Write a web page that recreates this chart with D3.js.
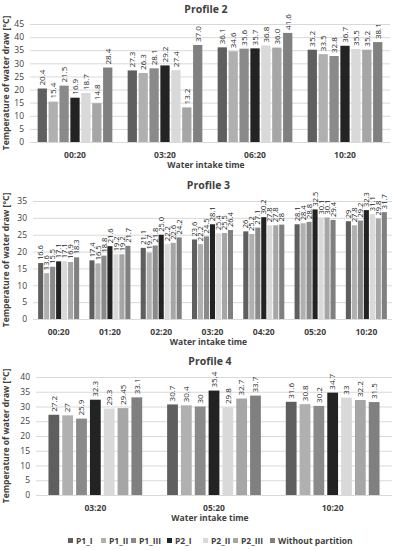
<!DOCTYPE html>
<html>
<head>
<meta charset="utf-8">
<script src="https://cdn.jsdelivr.net/npm/d3@7"></script>
<style>
  body { margin: 0; background: #fff; }
  svg text { font-family: "Open Sans", "DejaVu Sans", sans-serif; fill: #404040; }
</style>
</head>
<body>
<div id="chart"></div>
<script>
// series names and colours
const seriesNames = ["P1_I", "P1_II", "P1_III", "P2_I", "P2_II", "P2_III", "Without partition"];
const seriesColors = ["#5f5f5f", "#b0b0b0", "#8a8a8a", "#232323", "#d9d9d9", "#a6a6a6", "#808080"];

// Profile 2
const p2Times = ["00:20", "03:20", "06:20", "10:20"];
const p2Values = [
    [20.4, 15.4, 21.5, 16.9, 18.7, 14.8, 28.4],
    [27.3, 26.3, 28.1, 29.2, 27.4, 13.2, 37.0],
    [36.1, 34.6, 35.6, 35.7, 36.8, 36.0, 41.6],
    [35.2, 33.5, 32.8, 36.7, 35.5, 35.2, 38.1]
];
const p2Labels = [
    ["20.4", "15.4", "21.5", "16.9", "18.7", "14.8", "28.4"],
    ["27.3", "26.3", "28.1", "29.2", "27.4", "13.2", "37.0"],
    ["36.1", "34.6", "35.6", "35.7", "36.8", "36.0", "41.6"],
    ["35.2", "33.5", "32.8", "36.7", "35.5", "35.2", "38.1"]
];

// Profile 3
const p3Times = ["00:20", "01:20", "02:20", "03:20", "04:20", "05:20", "10:20"];
const p3Values = [
    [16.6, 13.6, 15.5, 17.1, 17.1, 16.9, 18.3],
    [17.4, 16.5, 18.8, 21.6, 19.2, 19.2, 21.7],
    [21.1, 19.7, 21.8, 25.0, 22.2, 22.6, 24.2],
    [23.6, 22.2, 24.5, 28.1, 25.4, 25.5, 26.4],
    [26, 25.2, 27.1, 30.2, 27.8, 27.8, 28],
    [28.1, 28.4, 28.8, 32.5, 30.1, 30.1, 29.4],
    [29, 27.8, 29.2, 32.3, 31.1, 29.8, 31.7]
];
const p3Labels = [
    ["16.6", "13.6", "15.5", "17.1", "17.1", "16.9", "18.3"],
    ["17.4", "16.5", "18.8", "21.6", "19.2", "19.2", "21.7"],
    ["21.1", "19.7", "21.8", "25.0", "22.2", "22.6", "24.2"],
    ["23.6", "22.2", "24.5", "28.1", "25.4", "25.5", "26.4"],
    ["26", "25.2", "27.1", "30.2", "27.8", "27.8", "28"],
    ["28.1", "28.4", "28.8", "32.5", "30.1", "30.1", "29.4"],
    ["29", "27.8", "29.2", "32.3", "31.1", "29.8", "31.7"]
];

// Profile 4
const p4Times = ["03:20", "05:20", "10:20"];
const p4Values = [
    [27.2, 27, 25.9, 32.3, 29.3, 29.45, 33.1],
    [30.7, 30.4, 30, 35.4, 29.8, 32.7, 33.7],
    [31.6, 30.8, 30.2, 34.7, 33, 32.2, 31.5]
];
const p4Labels = [
    ["27.2", "27", "25.9", "32.3", "29.3", "29.45", "33.1"],
    ["30.7", "30.4", "30", "35.4", "29.8", "32.7", "33.7"],
    ["31.6", "30.8", "30.2", "34.7", "33", "32.2", "31.5"]
];

const width = 395, height = 550;

const svg = d3.select("#chart").append("svg")
    .attr("width", width)
    .attr("height", height);

// draws one panel of grouped bars
function drawPanel(opts) {
    let x = d3.scaleBand()
        .domain(opts.times)
        .range([opts.left, opts.right])
        .paddingInner(opts.groupPad)
        .paddingOuter(opts.groupPad / 2);
    let xs = d3.scaleBand()
        .domain(seriesNames)
        .range([0, x.bandwidth()])
        .paddingInner(opts.barPad);
    let y = d3.scaleLinear()
        .domain([0, opts.yMax])
        .range([opts.bottom, opts.top]);

    let g = svg.append("g");

    // title
    g.append("text")
        .attr("x", (opts.left + opts.right) / 2 - 4)
        .attr("y", opts.titleY)
        .attr("text-anchor", "middle")
        .style("font-size", "10.5px")
        .style("font-weight", "bold")
        .text(opts.title);

    // grid + y ticks
    let yAxis = g.append("g")
        .attr("transform", "translate(" + opts.left + ",0)")
        .call(d3.axisLeft(y).tickValues(d3.range(0, opts.yMax + 1, 5))
            .tickSize(-(opts.right - opts.left)).tickPadding(6));
    yAxis.select(".domain").remove();
    yAxis.selectAll("line").attr("stroke", "#d9d9d9");
    yAxis.selectAll("text")
        .style("font-size", "8.5px")
        .style("font-family", "'Open Sans', sans-serif")
        .attr("fill", "#404040");

    // bars
    opts.times.forEach(function(t, i) {
        let grp = g.append("g").attr("transform", "translate(" + x(t) + ",0)");
        seriesNames.forEach(function(s, j) {
            let v = opts.values[i][j];
            grp.append("rect")
                .attr("x", xs(s))
                .attr("y", y(v))
                .attr("width", xs.bandwidth())
                .attr("height", y(0) - y(v))
                .attr("fill", seriesColors[j]);
            let lx = xs(s) + xs.bandwidth() / 2 + opts.labelSize * 0.35;
            let ly = y(v) - 3;
            grp.append("text")
                .attr("transform", "translate(" + lx + "," + ly + ") rotate(-90)")
                .attr("text-anchor", "start")
                .style("font-size", opts.labelSize + "px")
                .attr("fill", "#262626")
                .style("fill", "#262626")
                .text(opts.labels[i][j]);
        });
    });

    // x labels
    let xAxis = g.append("g")
        .attr("transform", "translate(0," + opts.bottom + ")")
        .call(d3.axisBottom(x).tickSize(0).tickPadding(10));
    xAxis.select(".domain").remove();
    xAxis.selectAll("text")
        .style("font-size", "8.5px")
        .style("font-weight", "bold")
        .style("font-family", "'Open Sans', sans-serif")
        .attr("fill", "#404040");

    // x axis title
    g.append("text")
        .attr("x", (opts.left + opts.right) / 2 - 4)
        .attr("y", opts.bottom + 26)
        .attr("text-anchor", "middle")
        .style("font-size", "8.5px")
        .style("font-weight", "bold")
        .text("Water intake time");

    // y axis title
    g.append("text")
        .attr("transform", "translate(9," + ((opts.top + opts.bottom) / 2) + ") rotate(-90)")
        .attr("text-anchor", "middle")
        .style("font-size", "8.5px")
        .style("font-weight", "bold")
        .text("Temperature of water draw [°C]");
}

drawPanel({
    title: "Profile 2", titleY: 13,
    times: p2Times, values: p2Values, labels: p2Labels,
    yMax: 45, top: 24, bottom: 142, left: 30, right: 390,
    groupPad: 0.17, barPad: 0.15, labelSize: 8
});

drawPanel({
    title: "Profile 3", titleY: 189,
    times: p3Times, values: p3Values, labels: p3Labels,
    yMax: 35, top: 201, bottom: 319, left: 33, right: 392,
    groupPad: 0.2, barPad: 0.15, labelSize: 7.5
});

drawPanel({
    title: "Profile 4", titleY: 365,
    times: p4Times, values: p4Values, labels: p4Labels,
    yMax: 40, top: 377, bottom: 495, left: 36, right: 392,
    groupPad: 0.21, barPad: 0.22, labelSize: 8
});

// legend
let legend = svg.append("g").attr("transform", "translate(0,541)");
let legendX = [68, 101, 131, 167, 203, 233, 270];
seriesNames.forEach(function(s, j) {
    legend.append("rect")
        .attr("x", legendX[j])
        .attr("y", -3)
        .attr("width", 5)
        .attr("height", 5)
        .attr("fill", seriesColors[j]);
    legend.append("text")
        .attr("x", legendX[j] + 8)
        .attr("y", 3)
        .style("font-size", "8.5px")
        .style("font-weight", "bold")
        .text(s);
});
</script>
</body>
</html>
